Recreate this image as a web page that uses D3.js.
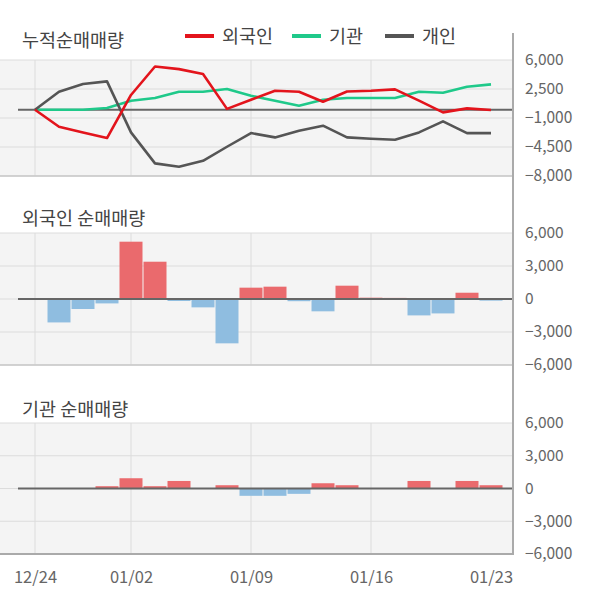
<!DOCTYPE html>
<html><head><meta charset="utf-8">
<script src="https://cdn.jsdelivr.net/npm/d3@7"></script>
<style>body{margin:0;background:#fff;}svg{display:block;font-family:"Noto Sans CJK KR","Noto Sans",sans-serif;}</style>
</head><body>
<svg id="c" width="600" height="604"></svg>
<script>
const dates = ["12/24","12/26","12/27","12/30","01/02","01/03","01/06","01/07","01/08","01/09","01/10","01/13","01/14","01/15","01/16","01/17","01/20","01/21","01/22","01/23"];
const tickDates = ["12/24","01/02","01/09","01/16","01/23"];
const gridDates = ["12/24","01/02","01/09","01/16"];
const cumForeign = [0,-2050,-2740,-3420,1780,5220,4900,4300,100,1200,2290,2170,960,2200,2290,2450,1090,-320,160,-40];
const cumInst = [0,0,0,200,1090,1410,2170,2170,2500,1690,1090,480,1210,1410,1410,1410,2170,2050,2780,3060];
const cumIndiv = [0,2170,3100,3420,-2740,-6480,-6880,-6160,-4470,-2820,-3340,-2540,-1930,-3340,-3500,-3620,-2740,-1410,-2820,-2820];
const foreignNet = [0,-2130,-910,-400,5210,3390,-180,-760,-4030,1030,1120,-200,-1120,1210,120,100,-1490,-1310,570,-150];
const instNet = [0,0,0,210,940,210,690,0,300,-670,-670,-490,480,300,0,0,690,0,690,300];
const cumTicks = [6000,2500,-1000,-4500,-8000];
const netTicks = [6000,3000,0,-3000,-6000];
const seriesNames = ["외국인","기관","개인"];
const seriesColors = ["#e3141c","#1fc98a","#555555"];

const svg = d3.select("#c");
const axisX = 513;
const x = d3.scalePoint().domain(dates).range([35,491]);
const fmt = d3.format(",");
const barW = 23;

function panel(top, bottom, domain, ticks){
  const y = d3.scaleLinear().domain(domain).range([bottom, top]);
  const g = svg.append("g");
  g.append("rect").attr("x",0).attr("y",top).attr("width",axisX).attr("height",bottom-top).attr("fill","#f4f4f4");
  g.selectAll("line.h").data(ticks).join("line")
    .attr("x1",0).attr("x2",axisX).attr("y1",d=>y(d)).attr("y2",d=>y(d))
    .attr("stroke","#dcdcdc").attr("stroke-width",1);
  g.selectAll("line.v").data(gridDates).join("line")
    .attr("x1",d=>x(d)).attr("x2",d=>x(d)).attr("y1",top).attr("y2",bottom)
    .attr("stroke","#dcdcdc").attr("stroke-width",1);
  g.append("line").attr("x1",0).attr("x2",axisX).attr("y1",bottom).attr("y2",bottom)
    .attr("stroke","#c8c8c8").attr("stroke-width",1.5);
  const ax = d3.axisRight(y).tickValues(ticks).tickSize(0).tickPadding(12).tickFormat(fmt);
  const a = svg.append("g").attr("transform",`translate(${axisX},0)`).call(ax);
  a.select(".domain").remove();
  a.selectAll("text").attr("fill","#666").style("font-size","15.5px").style("font-family","'Noto Sans CJK KR','Noto Sans',sans-serif");
  return {y, g};
}

// Top panel
const p1 = panel(60, 176, [-8000, 6000], cumTicks);
p1.g.append("line").attr("x1",18).attr("x2",axisX).attr("y1",p1.y(0)).attr("y2",p1.y(0)).attr("stroke","#666").attr("stroke-width",2);
[cumInst, cumIndiv, cumForeign].forEach((arr,i)=>{
  const col = [seriesColors[1],seriesColors[2],seriesColors[0]][i];
  p1.g.append("path").datum(arr)
    .attr("d", d3.line().x((d,j)=>x(dates[j])).y(d=>p1.y(d)))
    .attr("fill","none").attr("stroke",col).attr("stroke-width",2.6).attr("stroke-linejoin","round");
});

function barPanel(top,bottom,vals){
  const p = panel(top,bottom,[-6000,6000],netTicks);
  p.g.selectAll("rect.b").data(vals).join("rect")
    .attr("x",(d,i)=>x(dates[i])-barW/2).attr("width",barW)
    .attr("y",d=>d>=0?p.y(d):p.y(0)).attr("height",d=>Math.abs(p.y(d)-p.y(0)))
    .attr("fill",d=>d>=0?"#ea6a6d":"#8fbde0");
  p.g.append("line").attr("x1",18).attr("x2",axisX).attr("y1",p.y(0)).attr("y2",p.y(0)).attr("stroke","#666").attr("stroke-width",2);
  return p;
}
barPanel(233,365,foreignNet);
const p3 = barPanel(423,554,instNet);
svg.append("line").attr("x1",0).attr("x2",axisX).attr("y1",554).attr("y2",554).attr("stroke","#aaa").attr("stroke-width",2);

// right axis line
svg.append("line").attr("x1",axisX).attr("x2",axisX).attr("y1",33).attr("y2",555).attr("stroke","#aaa").attr("stroke-width",2);

// x axis
const xa = d3.axisBottom(x).tickValues(tickDates).tickSize(0).tickPadding(0);
const xg = svg.append("g").attr("transform","translate(0,571)").call(xa);
xg.select(".domain").remove();
xg.selectAll("text").attr("fill","#666").style("font-size","16.5px").style("font-family","'Noto Sans CJK KR','Noto Sans',sans-serif");

// titles
const titleStyle = s=>s.attr("fill","#444").style("font-size","18.5px");
titleStyle(svg.append("text").attr("x",22).attr("y",47).text("누적순매매량"));
titleStyle(svg.append("text").attr("x",22).attr("y",225).text("외국인 순매매량"));
titleStyle(svg.append("text").attr("x",22).attr("y",416).text("기관 순매매량"));

// legend
const legX = [185,292,385];
seriesNames.forEach((n,i)=>{
  svg.append("line").attr("x1",legX[i]).attr("x2",legX[i]+29).attr("y1",36).attr("y2",36).attr("stroke",seriesColors[i]).attr("stroke-width",4);
  svg.append("text").attr("x",legX[i]+37).attr("y",43).attr("fill","#444").style("font-size","18.5px").text(n);
});
</script>
</body></html>
